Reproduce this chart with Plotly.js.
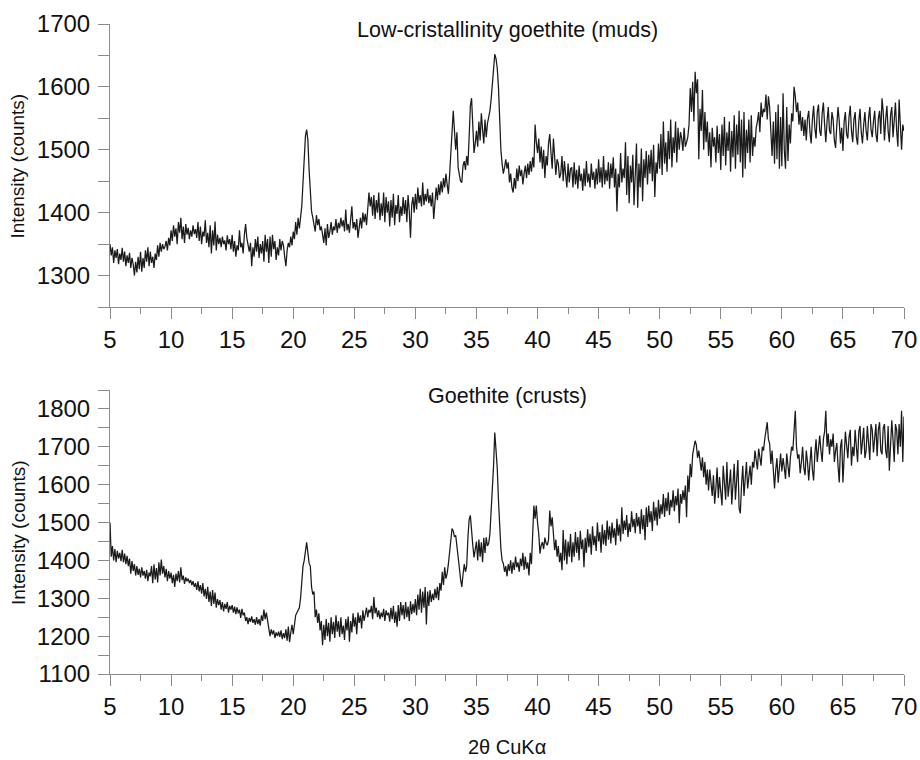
<!DOCTYPE html>
<html>
<head>
<meta charset="utf-8">
<script src="https://cdn.plot.ly/plotly-3.0.1.min.js"></script>
<style>html,body{margin:0;padding:0;background:#fff;}#chart{width:920px;height:760px;}</style>
</head>
<body>
<div id="chart"></div>
<script>
// 2-theta scan grid (degrees): start, step
const twoThetaStart = 5.0;
const twoThetaStep = 0.1;

// Panel titles / axis labels
const titleMuds = "Low-cristallinity goethite (muds)";
const titleCrusts = "Goethite (crusts)";
const yLabel = "Intensity (counts)";
const xLabel = "2θ CuKα";
const xTickVals = [5,10,15,20,25,30,35,40,45,50,55,60,65,70];

const mudsCounts = [
1350,1332,1345,1320,1340,1328,1342,1318,1335,1325,
1344,1322,1338,1315,1332,1320,1336,1312,1328,1318,
1300,1322,1305,1330,1310,1338,1306,1328,1312,1340,
1322,1345,1315,1338,1320,1330,1312,1335,1325,1348,
1330,1352,1338,1350,1342,1346,1355,1340,1360,1348,
1372,1355,1380,1362,1375,1350,1385,1368,1392,1358,
1378,1352,1382,1365,1376,1358,1372,1362,1380,1366,
1374,1360,1385,1355,1378,1350,1370,1362,1388,1352,
1368,1345,1380,1335,1372,1348,1386,1340,1365,1350,
1360,1345,1362,1350,1356,1340,1364,1350,1358,1342,
1365,1338,1355,1330,1348,1340,1372,1345,1352,1335,
1365,1382,1360,1345,1338,1352,1315,1345,1330,1358,
1338,1362,1328,1350,1335,1355,1322,1365,1338,1358,
1320,1362,1330,1365,1342,1355,1325,1345,1332,1358,
1340,1355,1348,1330,1315,1340,1352,1345,1362,1348,
1370,1358,1385,1365,1392,1375,1398,1410,1448,1480,
1522,1532,1515,1468,1440,1402,1392,1382,1370,1396,
1380,1390,1372,1378,1362,1352,1375,1348,1382,1360,
1370,1385,1365,1378,1372,1390,1368,1384,1375,1392,
1378,1388,1370,1405,1372,1382,1368,1394,1410,1375,
1385,1372,1390,1360,1380,1392,1375,1400,1385,1398,
1380,1405,1432,1410,1425,1395,1428,1390,1420,1400,
1432,1388,1415,1395,1432,1385,1425,1400,1418,1378,
1420,1392,1430,1380,1412,1398,1428,1385,1410,1395,
1425,1398,1420,1385,1428,1402,1360,1412,1425,1400,
1430,1405,1440,1415,1428,1410,1448,1412,1430,1418,
1438,1415,1428,1410,1432,1390,1425,1440,1420,1445,
1428,1450,1432,1455,1440,1462,1445,1430,1460,1500,
1540,1562,1530,1500,1528,1472,1460,1450,1448,1475,
1482,1468,1490,1475,1520,1570,1582,1548,1495,1510,
1530,1505,1545,1515,1558,1532,1510,1548,1520,1542,
1550,1562,1580,1610,1640,1652,1645,1630,1600,1540,
1500,1478,1462,1472,1485,1470,1480,1448,1462,1440,
1432,1455,1438,1470,1450,1475,1458,1468,1445,1462,
1475,1455,1478,1460,1482,1465,1488,1472,1540,1512,
1495,1518,1480,1505,1470,1500,1455,1490,1475,1510,
1525,1495,1470,1518,1492,1460,1485,1478,1455,1462,
1490,1450,1482,1460,1440,1478,1448,1470,1472,1440,
1480,1445,1468,1438,1475,1450,1462,1435,1470,1442,
1482,1448,1462,1440,1478,1452,1465,1438,1470,1445,
1485,1448,1472,1440,1490,1445,1468,1450,1480,1438,
1478,1455,1488,1440,1470,1402,1462,1440,1495,1448,
1470,1455,1512,1428,1490,1415,1475,1448,1492,1412,
1465,1510,1408,1478,1440,1502,1418,1485,1455,1498,
1445,1492,1462,1500,1450,1508,1425,1480,1462,1510,
1470,1525,1460,1545,1478,1512,1465,1530,1485,1548,
1472,1520,1495,1545,1480,1535,1500,1528,1518,1498,
1535,1505,1512,1520,1540,1598,1560,1608,1545,1624,
1590,1612,1485,1565,1530,1595,1500,1560,1512,1545,
1490,1528,1472,1535,1505,1520,1480,1538,1495,1525,
1468,1540,1490,1552,1475,1528,1498,1545,1465,1530,
1488,1555,1470,1540,1492,1562,1480,1548,1456,1560,
1470,1532,1495,1548,1480,1555,1490,1520,1505,1535,
1545,1560,1528,1575,1552,1565,1560,1588,1548,1585,
1568,1530,1490,1545,1478,1560,1485,1572,1470,1552,
1474,1590,1500,1470,1568,1482,1540,1510,1558,1545,
1600,1585,1560,1575,1540,1562,1530,1552,1522,1548,
1515,1550,1562,1528,1510,1548,1570,1535,1518,1560,
1572,1530,1522,1558,1575,1540,1512,1545,1568,1530,
1525,1560,1548,1515,1503,1540,1568,1545,1510,1535,
1498,1545,1560,1525,1518,1552,1570,1530,1512,1548,
1560,1520,1508,1545,1565,1528,1510,1540,1560,1530,
1515,1550,1568,1532,1520,1545,1562,1525,1512,1550,
1562,1525,1582,1560,1515,1548,1570,1530,1512,1555,
1568,1520,1548,1575,1530,1505,1580,1545,1500,1540,
1530];

const crustsCounts = [
1500,1410,1438,1400,1430,1395,1425,1405,1420,1398,
1428,1395,1418,1390,1412,1385,1405,1365,1398,1372,
1390,1360,1385,1362,1378,1355,1382,1360,1372,1352,
1375,1345,1368,1358,1385,1340,1390,1350,1380,1342,
1395,1360,1402,1365,1385,1355,1378,1345,1372,1352,
1368,1340,1362,1330,1365,1345,1372,1342,1382,1348,
1360,1338,1355,1345,1352,1340,1348,1335,1345,1330,
1340,1322,1345,1318,1335,1312,1340,1305,1325,1298,
1330,1290,1318,1280,1322,1285,1315,1275,1298,1282,
1295,1270,1290,1265,1285,1272,1290,1262,1280,1270,
1282,1262,1278,1258,1276,1260,1270,1248,1272,1255,
1262,1240,1250,1232,1248,1238,1252,1235,1245,1230,
1250,1232,1245,1228,1255,1240,1270,1245,1262,1238,
1225,1200,1218,1205,1215,1195,1210,1200,1212,1198,
1215,1192,1208,1195,1218,1188,1225,1184,1210,1230,
1205,1235,1255,1262,1270,1275,1300,1340,1385,1400,
1430,1448,1420,1392,1385,1330,1310,1318,1250,1270,
1235,1260,1215,1240,1176,1230,1190,1245,1200,1235,
1185,1250,1205,1238,1195,1255,1212,1240,1198,1250,
1205,1228,1190,1245,1215,1252,1185,1240,1210,1260,
1225,1250,1205,1262,1235,1255,1220,1268,1240,1258,
1275,1250,1270,1262,1280,1245,1303,1260,1275,1250,
1268,1245,1262,1250,1272,1240,1268,1255,1262,1238,
1275,1245,1280,1235,1265,1225,1282,1240,1290,1255,
1282,1245,1290,1250,1278,1240,1292,1258,1285,1262,
1298,1255,1310,1270,1325,1262,1318,1275,1330,1231,
1318,1280,1322,1290,1312,1295,1325,1300,1330,1295,
1340,1320,1370,1335,1382,1352,1365,1390,1420,1455,
1484,1478,1462,1466,1430,1400,1380,1350,1330,1362,
1390,1370,1385,1460,1508,1519,1471,1440,1408,1432,
1450,1400,1455,1410,1448,1395,1460,1420,1461,1438,
1445,1470,1524,1580,1650,1738,1700,1645,1560,1479,
1430,1400,1392,1370,1385,1358,1390,1372,1400,1365,
1395,1375,1410,1382,1395,1370,1405,1385,1420,1375,
1410,1378,1395,1360,1420,1390,1455,1545,1510,1545,
1500,1470,1418,1440,1448,1430,1460,1445,1440,1455,
1532,1490,1514,1470,1427,1455,1410,1438,1395,1420,
1374,1480,1400,1455,1390,1450,1410,1470,1395,1448,
1410,1475,1420,1462,1400,1478,1430,1455,1382,1460,
1420,1482,1435,1470,1415,1490,1440,1465,1425,1500,
1450,1475,1420,1495,1442,1480,1438,1505,1455,1490,
1445,1500,1460,1485,1440,1510,1465,1495,1450,1540,
1470,1505,1480,1520,1462,1498,1475,1530,1488,1510,
1472,1525,1490,1515,1470,1535,1482,1520,1453,1540,
1488,1545,1500,1530,1478,1555,1505,1540,1492,1560,
1510,1548,1522,1575,1515,1565,1530,1580,1520,1560,
1540,1585,1530,1570,1545,1590,1498,1575,1550,1585,
1560,1598,1514,1624,1580,1655,1620,1680,1700,1716,
1705,1671,1690,1660,1637,1672,1620,1660,1600,1640,
1585,1640,1600,1570,1625,1550,1590,1645,1565,1620,
1580,1545,1650,1600,1560,1660,1568,1600,1640,1548,
1590,1655,1560,1610,1665,1538,1524,1600,1650,1570,
1625,1660,1590,1615,1650,1600,1660,1645,1690,1665,
1640,1695,1672,1650,1700,1690,1720,1740,1765,1720,
1708,1655,1690,1640,1590,1640,1670,1605,1660,1682,
1635,1670,1645,1615,1682,1650,1620,1672,1700,1690,
1740,1795,1700,1669,1680,1630,1660,1700,1645,1625,
1690,1660,1611,1670,1700,1640,1611,1680,1720,1660,
1700,1730,1690,1660,1720,1740,1795,1700,1735,1680,
1720,1700,1735,1660,1690,1710,1650,1606,1700,1720,
1606,1680,1740,1705,1670,1725,1745,1650,1700,1675,
1745,1700,1660,1740,1755,1680,1725,1750,1670,1690,
1755,1720,1665,1760,1745,1685,1730,1760,1675,1745,
1765,1690,1680,1750,1760,1690,1670,1755,1637,1700,
1770,1720,1660,1760,1745,1680,1760,1700,1795,1660,
1780];

const twoTheta = mudsCounts.map((_, i) => +(twoThetaStart + i * twoThetaStep).toFixed(2));

const axisColor = '#8a8a8a';
const fontFam = 'Liberation Sans, Arial, sans-serif';
const lineStyle = {color: '#1a1a1a', width: 1.25};

const traces = [
  {x: twoTheta, y: mudsCounts, type: 'scatter', mode: 'lines', line: lineStyle, xaxis: 'x', yaxis: 'y', hoverinfo: 'skip'},
  {x: twoTheta, y: crustsCounts, type: 'scatter', mode: 'lines', line: lineStyle, xaxis: 'x2', yaxis: 'y2', hoverinfo: 'skip'}
];

function xAxis(anchor) {
  return {
    anchor: anchor, domain: [0, 1], range: [5, 70],
    tickvals: xTickVals, ticks: 'outside', ticklen: 11, tickwidth: 1, tickcolor: axisColor,
    minor: {dtick: 2.5, tick0: 5, ticks: 'outside', ticklen: 6, tickwidth: 1, tickcolor: axisColor, showgrid: false},
    showline: true, linecolor: axisColor, linewidth: 1, showgrid: false, zeroline: false,
    tickfont: {family: fontFam, size: 24, color: '#111'}, ticklabelstandoff: 0, fixedrange: true
  };
}
function yAxis(anchor, domain, range, dtick) {
  return {
    anchor: anchor, domain: domain, range: range, dtick: dtick, tick0: 1100,
    ticks: 'outside', ticklen: 11, tickwidth: 1, tickcolor: axisColor,
    minor: {dtick: dtick / 2, ticks: 'outside', ticklen: 11, tickwidth: 1, tickcolor: axisColor, showgrid: false},
    showline: true, linecolor: axisColor, linewidth: 1, showgrid: false, zeroline: false,
    tickfont: {family: fontFam, size: 24, color: '#111'}, ticklabelstandoff: 3, fixedrange: true
  };
}

const topDomain = [0.5646, 1];
const botDomain = [0, 0.4369];

const layout = {
  width: 920, height: 760,
  margin: {l: 110, r: 16, t: 24, b: 86},
  paper_bgcolor: '#fff', plot_bgcolor: '#fff',
  showlegend: false,
  xaxis: xAxis('y'),
  yaxis: Object.assign(yAxis('x', topDomain, [1250, 1700], 100), {tickvals: [1300,1400,1500,1600,1700]}),
  xaxis2: xAxis('y2'),
  yaxis2: yAxis('x2', botDomain, [1100, 1850], 100),
  annotations: [
    {text: titleMuds, xref: 'paper', yref: 'paper', x: 0.5, y: 0.9908, xanchor: 'center', yanchor: 'middle', showarrow: false, font: {family: fontFam, size: 21.5, color: '#111'}},
    {text: titleCrusts, xref: 'paper', yref: 'paper', x: 0.5, y: 0.4277, xanchor: 'center', yanchor: 'middle', showarrow: false, font: {family: fontFam, size: 21.5, color: '#111'}},
    {text: yLabel, xref: 'paper', yref: 'paper', x: -0.1159, y: (topDomain[0] + topDomain[1]) / 2, xanchor: 'center', yanchor: 'middle', textangle: -90, showarrow: false, font: {family: fontFam, size: 19, color: '#111'}},
    {text: yLabel, xref: 'paper', yref: 'paper', x: -0.1159, y: (botDomain[0] + botDomain[1]) / 2, xanchor: 'center', yanchor: 'middle', textangle: -90, showarrow: false, font: {family: fontFam, size: 19, color: '#111'}},
    {text: xLabel, xref: 'paper', yref: 'paper', x: 0.5, y: -0.1123, xanchor: 'center', yanchor: 'middle', showarrow: false, font: {family: fontFam, size: 20, color: '#111'}}
  ]
};

Plotly.newPlot('chart', traces, layout, {staticPlot: true, displayModeBar: false});
</script>
</body>
</html>
